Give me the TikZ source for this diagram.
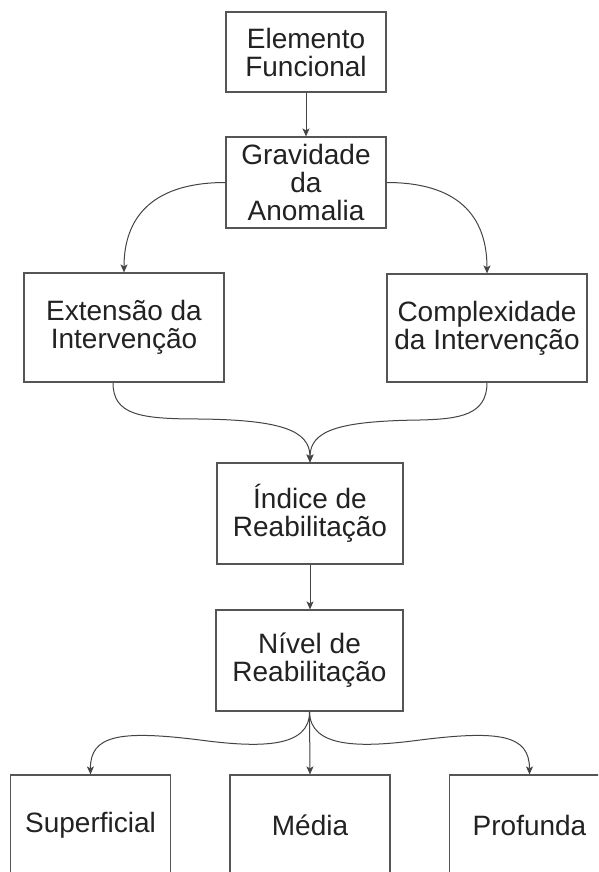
\documentclass[tikz,border=0pt]{standalone}
\usepackage{fontspec}
\setmainfont{Liberation Sans}
\usetikzlibrary{arrows.meta}
\definecolor{edgec}{HTML}{444444}
\definecolor{boxc}{HTML}{555555}
\definecolor{txtc}{HTML}{222222}
\begin{document}
\begin{tikzpicture}[x=1pt,y=-1pt,
  box/.style={draw=boxc, line width=1.2pt, fill=white, inner sep=0pt, align=center, text=txtc, font=\fontsize{28}{28}\selectfont},
  conn/.style={draw=edgec, line width=1pt, -{Stealth[length=8pt,width=7pt,inset=2pt]}}]
\fill[white] (0,0) rectangle (598,872);
\path[use as bounding box, clip] (0,0) rectangle (598,872);

\node[box, minimum width=160pt, minimum height=80pt] (elem) at (306,52) {Elemento\\Funcional};
\node[box, minimum width=160pt, minimum height=91pt] (grav) at (306,182.5) {Gravidade\\da\\Anomalia};
\node[box, minimum width=200pt, minimum height=109pt] (ext) at (124,327.5) {Extensão da\\Intervenção};
\node[box, minimum width=200pt, minimum height=108pt] (comp) at (487,328) {Complexidade\\da Intervenção};
\node[box, minimum width=186pt, minimum height=101pt] (ind) at (310,513.5) {Índice de\\Reabilitação};
\node[box, minimum width=187pt, minimum height=101pt] (niv) at (309.5,660.5) {Nível de\\Reabilitação};
\node[box, minimum width=160pt, minimum height=101pt] (sup) at (90.5,825.5) {Superficial};
\node[box, minimum width=160pt, minimum height=101pt] (med) at (310,825.5) {Média};
\node[box, minimum width=160pt, minimum height=101pt] (pro) at (529.5,825.5) {Profunda};

\coordinate (extout) at ([xshift=-11pt]ext.south);

\draw[conn] (elem.south) -- (grav.north);
\draw[conn] (grav.west) .. controls (155,182.5) and (124,215) .. (ext.north);
\draw[conn] (grav.east) .. controls (457,182.5) and (487,215) .. (comp.north);
\draw[conn] (extout) .. controls (113,415) and (140,419) .. (200,419) .. controls (280,420) and (310,430) .. (ind.north);
\draw[conn] (comp.south) .. controls (487,415) and (460,419) .. (420,420) .. controls (340,421) and (310,430) .. (ind.north);
\draw[conn] (ind.south) -- (niv.north -| ind.south);
\draw[conn] (niv.south) .. controls (310,748) and (260,748) .. (200,740) .. controls (120,730) and (90,735) .. (sup.north);
\draw[conn] (niv.south) -- (med.north);
\draw[conn] (niv.south) .. controls (310,748) and (360,748) .. (420,740) .. controls (500,730) and (529.5,735) .. (pro.north);
\end{tikzpicture}
\end{document}
